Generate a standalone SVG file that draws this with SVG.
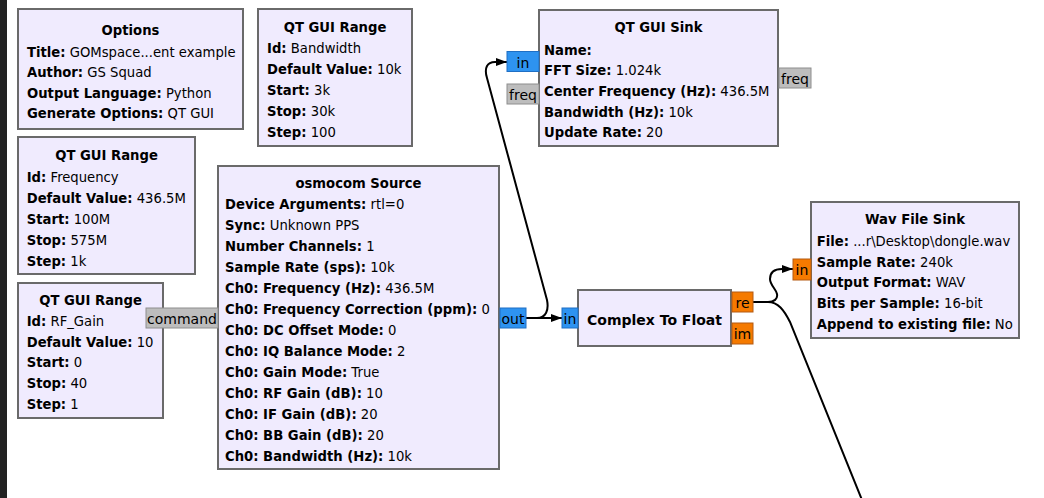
<svg xmlns="http://www.w3.org/2000/svg" width="1044" height="498" viewBox="0 0 1044 498">
<style>
.blk{fill:#F0EBFE;stroke:#6a6a6a;stroke-width:2}
text{font-family:"DejaVu Sans",Verdana,sans-serif;font-size:13.2px;fill:#000}
.t{font-weight:bold;text-anchor:middle}
.b{font-weight:bold}
.pl{text-anchor:middle;font-size:14px}
.cx{fill:#2E93F0;stroke:#1F6FC4;stroke-width:1}
.fl{fill:#F57A00;stroke:#B45A12;stroke-width:1}
.ms{fill:#BDBDBD;stroke:#8E8E8E;stroke-width:1}
.wire{fill:none;stroke:#000;stroke-width:2}
</style>
<defs>
<marker id="arr" viewBox="0 0 11 8" refX="11" refY="4" markerWidth="11" markerHeight="8" markerUnits="userSpaceOnUse" orient="auto">
<path d="M0,0 L11,4 L0,8 Z" fill="#000"/>
</marker>
</defs>
<rect x="0" y="0" width="1044" height="498" fill="#fff"/>
<rect x="0" y="0" width="7" height="498" fill="#222"/>

<g id="connectors">
<path class="wire" d="M526,318 L562,318" marker-end="url(#arr)"/>
<path class="wire" d="M526,318 L537,318 C546,318 549,310 547,300 L487,78 C484,68 487,62 495,62 L507,62" marker-end="url(#arr)"/>
<path class="wire" d="M753,302 L768,302 C774,302 778,299 777,294 C776,289 770,285 770,279 C770,272 775,269 782,269 L793,269" marker-end="url(#arr)"/>
<path class="wire" d="M768,302 C778,302 784,310 790,322 L862,500"/>
</g>

<g id="options">
<rect class="blk" x="18" y="9" width="225" height="120"/>
<text class="t" x="130.5" y="35">Options</text>
<text x="27" y="56.5"><tspan class="b">Title:</tspan> GOMspace...ent example</text>
<text x="27" y="77"><tspan class="b">Author:</tspan> GS Squad</text>
<text x="27" y="97.5"><tspan class="b">Output Language:</tspan> Python</text>
<text x="27" y="118"><tspan class="b">Generate Options:</tspan> QT GUI</text>
</g>

<g id="range_bandwidth">
<rect class="blk" x="258" y="9" width="154" height="137"/>
<text class="t" x="335" y="31.7">QT GUI Range</text>
<text x="267" y="53"><tspan class="b">Id:</tspan> Bandwidth</text>
<text x="267" y="74"><tspan class="b">Default Value:</tspan> 10k</text>
<text x="267" y="95"><tspan class="b">Start:</tspan> 3k</text>
<text x="267" y="116"><tspan class="b">Stop:</tspan> 30k</text>
<text x="267" y="136.7"><tspan class="b">Step:</tspan> 100</text>
</g>

<g id="qt_gui_sink">
<rect class="blk" x="539" y="10" width="239" height="136"/>
<text class="t" x="658.5" y="31.7">QT GUI Sink</text>
<text x="544" y="54.5"><tspan class="b">Name:</tspan></text>
<text x="544" y="75"><tspan class="b">FFT Size:</tspan> 1.024k</text>
<text x="544" y="95.5"><tspan class="b">Center Frequency (Hz):</tspan> 436.5M</text>
<text x="544" y="116.5"><tspan class="b">Bandwidth (Hz):</tspan> 10k</text>
<text x="544" y="137"><tspan class="b">Update Rate:</tspan> 20</text>
<rect class="cx" x="507" y="51.5" width="32" height="20"/>
<text class="pl" x="523" y="67.5">in</text>
<rect class="ms" x="507" y="84" width="32" height="20"/>
<text class="pl" x="523" y="100">freq</text>
<rect class="ms" x="779" y="68" width="32" height="20"/>
<text class="pl" x="795" y="84">freq</text>
</g>

<g id="range_frequency">
<rect class="blk" x="18" y="137" width="177" height="137"/>
<text class="t" x="106.5" y="160">QT GUI Range</text>
<text x="26.7" y="181.5"><tspan class="b">Id:</tspan> Frequency</text>
<text x="26.7" y="202.5"><tspan class="b">Default Value:</tspan> 436.5M</text>
<text x="26.7" y="223.5"><tspan class="b">Start:</tspan> 100M</text>
<text x="26.7" y="244.5"><tspan class="b">Stop:</tspan> 575M</text>
<text x="26.7" y="265.5"><tspan class="b">Step:</tspan> 1k</text>
</g>

<g id="range_rf_gain">
<rect class="blk" x="18" y="283" width="145" height="135"/>
<text class="t" x="90.5" y="305">QT GUI Range</text>
<text x="26.7" y="325.5"><tspan class="b">Id:</tspan> RF_Gain</text>
<text x="26.7" y="346.5"><tspan class="b">Default Value:</tspan> 10</text>
<text x="26.7" y="367"><tspan class="b">Start:</tspan> 0</text>
<text x="26.7" y="388"><tspan class="b">Stop:</tspan> 40</text>
<text x="26.7" y="409"><tspan class="b">Step:</tspan> 1</text>
</g>

<g id="osmocom_source">
<rect class="blk" x="218" y="166" width="281" height="303"/>
<text class="t" x="358.5" y="188.3">osmocom Source</text>
<text x="225" y="209"><tspan class="b">Device Arguments:</tspan> rtl=0</text>
<text x="225" y="230"><tspan class="b">Sync:</tspan> Unknown PPS</text>
<text x="225" y="251"><tspan class="b">Number Channels:</tspan> 1</text>
<text x="225" y="272"><tspan class="b">Sample Rate (sps):</tspan> 10k</text>
<text x="225" y="293"><tspan class="b">Ch0: Frequency (Hz):</tspan> 436.5M</text>
<text x="225" y="314"><tspan class="b">Ch0: Frequency Correction (ppm):</tspan> 0</text>
<text x="225" y="335"><tspan class="b">Ch0: DC Offset Mode:</tspan> 0</text>
<text x="225" y="356"><tspan class="b">Ch0: IQ Balance Mode:</tspan> 2</text>
<text x="225" y="377"><tspan class="b">Ch0: Gain Mode:</tspan> True</text>
<text x="225" y="398"><tspan class="b">Ch0: RF Gain (dB):</tspan> 10</text>
<text x="225" y="419"><tspan class="b">Ch0: IF Gain (dB):</tspan> 20</text>
<text x="225" y="440"><tspan class="b">Ch0: BB Gain (dB):</tspan> 20</text>
<text x="225" y="461"><tspan class="b">Ch0: Bandwidth (Hz):</tspan> 10k</text>
<rect class="ms" x="146" y="308" width="72" height="20"/>
<text class="pl" x="182" y="324">command</text>
<rect class="cx" x="500" y="308" width="26" height="20"/>
<text class="pl" x="513" y="324">out</text>
</g>

<g id="complex_to_float">
<rect class="blk" x="578" y="290" width="153" height="56"/>
<text class="t" x="654.5" y="324.5" style="font-size:14px">Complex To Float</text>
<rect class="cx" x="562" y="308" width="16" height="20"/>
<text class="pl" x="570" y="324">in</text>
<rect class="fl" x="732" y="292" width="21" height="20"/>
<text class="pl" x="742.5" y="308">re</text>
<rect class="fl" x="732" y="323" width="21" height="21"/>
<text class="pl" x="742.5" y="339">im</text>
</g>

<g id="wav_file_sink">
<rect class="blk" x="811" y="202" width="208" height="136"/>
<text class="t" x="915" y="224">Wav File Sink</text>
<text x="816.7" y="246"><tspan class="b">File:</tspan> ...r\Desktop\dongle.wav</text>
<text x="816.7" y="266.5"><tspan class="b">Sample Rate:</tspan> 240k</text>
<text x="816.7" y="287"><tspan class="b">Output Format:</tspan> WAV</text>
<text x="816.7" y="308"><tspan class="b">Bits per Sample:</tspan> 16-bit</text>
<text x="816.7" y="329"><tspan class="b">Append to existing file:</tspan> No</text>
<rect class="fl" x="793" y="259" width="18" height="21"/>
<text class="pl" x="802" y="275">in</text>
</g>
</svg>
